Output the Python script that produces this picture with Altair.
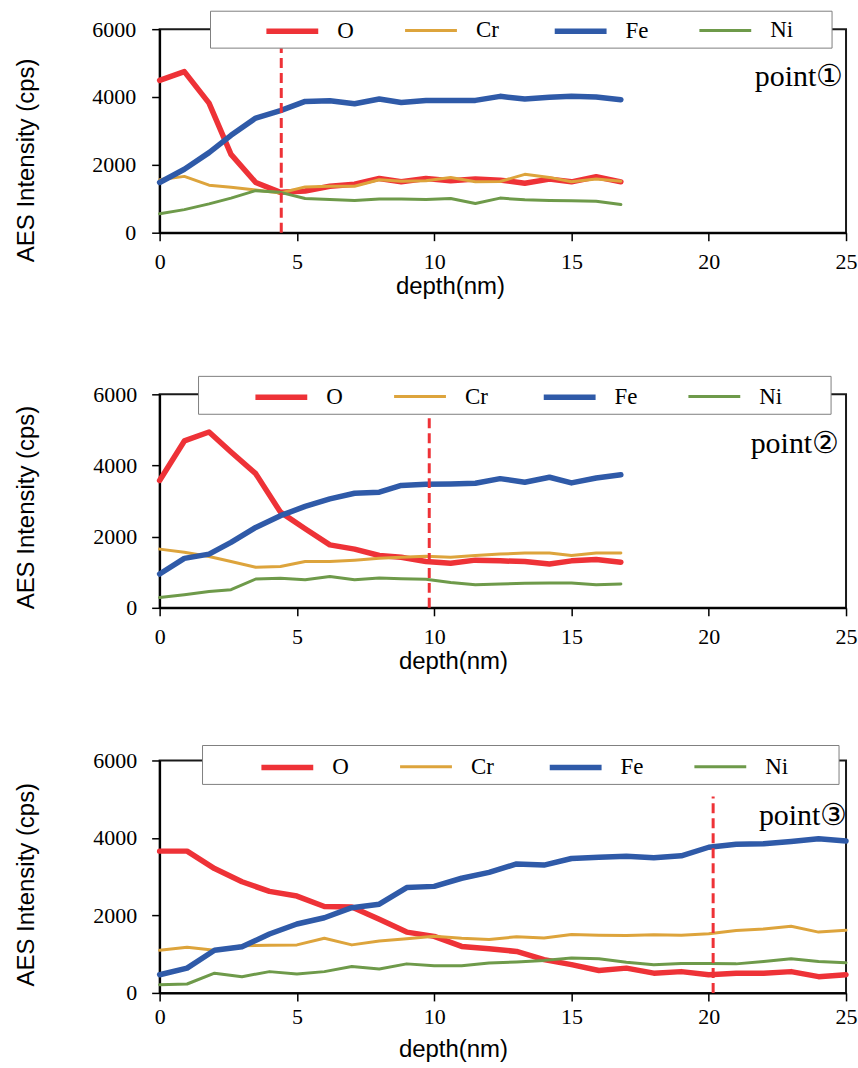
import altair as alt
import pandas as pd

elements = ["O", "Cr", "Fe", "Ni"]
colors = ["#ee3237", "#dda43c", "#2f5aa8", "#6e9a4a"]
widths = [5.5, 3, 5.5, 3]

# depth values (nm)
depth_a = [0, 0.9, 1.8, 2.6, 3.5, 4.4, 5.3, 6.2, 7.1, 8.0, 8.8, 9.7, 10.6, 11.5, 12.4, 13.3, 14.2, 15.0, 15.9, 16.8]
depth_c = [0, 1, 2, 3, 4, 5, 6, 7, 8, 9, 10, 11, 12, 13, 14, 15, 16, 17, 18, 19, 20, 21, 22, 23, 24, 25]

# point 1
o1 = [4490, 4750, 3820, 2310, 1480, 1190, 1230, 1370, 1430, 1600, 1500, 1600, 1530, 1580, 1550, 1460, 1580, 1500, 1650, 1500]
cr1 = [1560, 1660, 1400, 1340, 1260, 1170, 1350, 1370, 1370, 1560, 1520, 1530, 1630, 1500, 1510, 1720, 1630, 1500, 1580, 1520]
fe1 = [1480, 1870, 2360, 2870, 3380, 3600, 3870, 3890, 3800, 3940, 3840, 3900, 3900, 3900, 4020, 3940, 3990, 4020, 4000, 3920]
ni1 = [560, 680, 850, 1020, 1240, 1190, 1010, 980, 950, 990, 990, 980, 1010, 860, 1020, 970, 950, 940, 930, 830]

# point 2
o2 = [3580, 4690, 4940, 4380, 3770, 2690, 2220, 1770, 1650, 1470, 1420, 1300, 1250, 1340, 1320, 1300, 1230, 1320, 1360, 1280]
cr2 = [1650, 1560, 1440, 1300, 1140, 1160, 1300, 1300, 1340, 1390, 1420, 1450, 1420, 1470, 1510, 1540, 1540, 1470, 1540, 1540]
fe2 = [950, 1390, 1510, 1840, 2260, 2590, 2850, 3060, 3220, 3250, 3440, 3470, 3480, 3500, 3630, 3530, 3670, 3510, 3650, 3740]
ni2 = [290, 370, 460, 510, 810, 830, 790, 880, 790, 840, 820, 800, 710, 650, 670, 690, 700, 700, 650, 670]

# point 3
o3 = [3660, 3660, 3210, 2870, 2620, 2500, 2230, 2220, 1900, 1570, 1460, 1200, 1140, 1070, 860, 730, 580, 640, 510, 550, 470, 510, 510, 550, 420, 470]
cr3 = [1100, 1180, 1100, 1220, 1230, 1240, 1410, 1240, 1340, 1400, 1460, 1410, 1380, 1450, 1420, 1510, 1490, 1480, 1500, 1490, 1530, 1610, 1650, 1720, 1570, 1620]
fe3 = [470, 640, 1100, 1190, 1520, 1780, 1940, 2200, 2290, 2720, 2750, 2960, 3110, 3330, 3300, 3470, 3500, 3530, 3490, 3540, 3760, 3840, 3850, 3910, 3980, 3920]
ni3 = [210, 230, 510, 420, 550, 490, 550, 680, 620, 750, 700, 700, 770, 800, 840, 900, 880, 790, 730, 760, 760, 750, 810, 880, 810, 780]

marker_depth = [4.43, 9.82, 20.16]
marker_top = [5450, 5330, 5070]
point_labels = ["point\u2460", "point\u2461", "point\u2462"]
label_x = [24.9, 24.75, 25.05]
label_y = [4336, 4357, 4326]
x_ticks = [0, 5, 10, 15, 20, 25]
y_ticks = [0, 2000, 4000, 6000]


def panel(depth, series, k, w, h, lab_pad_x, title_y_x, title_x_y, title_y_y,
          lab_pad_y, box, leg_x, leg_y, x_title_x):
    rows = []
    for el, vals in zip(elements, series):
        for d, v in zip(depth, vals):
            rows.append({"depth": d, "AES": v, "element": el})
    df = pd.DataFrame(rows)

    x = alt.X("depth:Q", scale=alt.Scale(domain=[0, 25], nice=False, zero=False),
              axis=alt.Axis(values=x_ticks, format="d", title="depth(nm)",
                            titleFont="Liberation Sans", titleFontSize=24, titleFontWeight="normal",
                            titleColor="black", titleX=x_title_x, titleY=title_y_x,
                            titleAlign="center", titleBaseline="top",
                            labelFont="Liberation Serif", labelFontSize=22, labelColor="black",
                            labelPadding=lab_pad_x, labelFlush=False, tickSize=8, tickColor="black",
                            tickWidth=1.5, domainColor="black", domainWidth=2, grid=False))
    y = alt.Y("AES:Q", scale=alt.Scale(domain=[0, 6000], nice=False),
              axis=alt.Axis(values=y_ticks, format="d", title="AES Intensity (cps)",
                            titleFont="Liberation Sans", titleFontSize=24, titleFontWeight="normal",
                            titleColor="black", titleAngle=270, titleX=title_x_y, titleY=title_y_y,
                            titleAlign="center", titleBaseline="alphabetic",
                            labelFont="Liberation Serif", labelFontSize=22, labelColor="black",
                            labelPadding=lab_pad_y, tickSize=8, tickColor="black",
                            tickWidth=1.5, domainColor="black", domainWidth=2, grid=False))

    leg = alt.Legend(orient="none", legendX=leg_x, legendY=leg_y, direction="horizontal",
                     columns=4, title=None, symbolType="stroke", symbolSize=2700,
                     labelFont="Liberation Serif", labelFontSize=23, labelColor="black",
                     labelOffset=16, columnPadding=45, padding=0)

    lines = alt.Chart(df).mark_line(strokeCap="round", strokeJoin="round").encode(
        x=x, y=y,
        color=alt.Color("element:N", scale=alt.Scale(domain=elements, range=colors), legend=leg),
        strokeWidth=alt.StrokeWidth("element:N",
                                    scale=alt.Scale(type="ordinal", domain=elements, range=widths),
                                    legend=leg),
    )

    rule_df = pd.DataFrame({"depth": [marker_depth[k]], "AES": [0], "AES2": [marker_top[k]]})
    rule = alt.Chart(rule_df).mark_rule(color="#ee3237", strokeWidth=3, strokeDash=[10, 5]).encode(
        x=x, y=y, y2=alt.Y2("AES2:Q"))

    text_df = pd.DataFrame({"depth": [label_x[k]], "AES": [label_y[k]], "label": [point_labels[k]]})
    text = alt.Chart(text_df).mark_text(align="right", baseline="alphabetic",
                                        font="Liberation Serif", fontSize=30, color="black").encode(
        x=x, y=y, text="label:N")

    box_df = pd.DataFrame({"b": [0]})
    rect = alt.Chart(box_df).mark_rect(fill="white", stroke="#808080", strokeWidth=1).encode(
        x=alt.value(box[0]), x2=alt.value(box[1]), y=alt.value(box[2]), y2=alt.value(box[3]))

    return alt.layer(lines, rule, text, rect).properties(width=w, height=h)


p1 = panel(depth_a, [o1, cr1, fe1, ni1], 0, 688, 204, 11, 42, -126, 131, 16,
           (51, 674, -18, 19), 104, -27, 291)
p2 = panel(depth_a, [o2, cr2, fe2, ni2], 1, 688, 214, 11, 42, -126, 113, 15,
           (39, 673, -18, 20), 93, -26, 294)
p3 = panel(depth_c, [o3, cr3, fe3, ni3], 2, 688, 233, 6, 45, -126, 124, 15,
           (43, 681, -15, 24), 99, -22, 294)

bottom = alt.concat(p2, p3, columns=1, spacing=63, align="none").resolve_scale(
    x="independent", y="independent", color="independent", strokeWidth="independent"
).resolve_legend(color="independent", strokeWidth="independent")

chart = alt.concat(p1, bottom, columns=1, spacing=68, align="none").resolve_scale(
    x="independent", y="independent", color="independent", strokeWidth="independent"
).resolve_legend(color="independent", strokeWidth="independent").properties(
    padding={"left": 13, "top": 0, "right": 0, "bottom": 0},
    background="white",
).configure_view(stroke="#1a1a1a", strokeWidth=2)

chart.save("out.html", embed_options={"renderer": "svg", "actions": False})
